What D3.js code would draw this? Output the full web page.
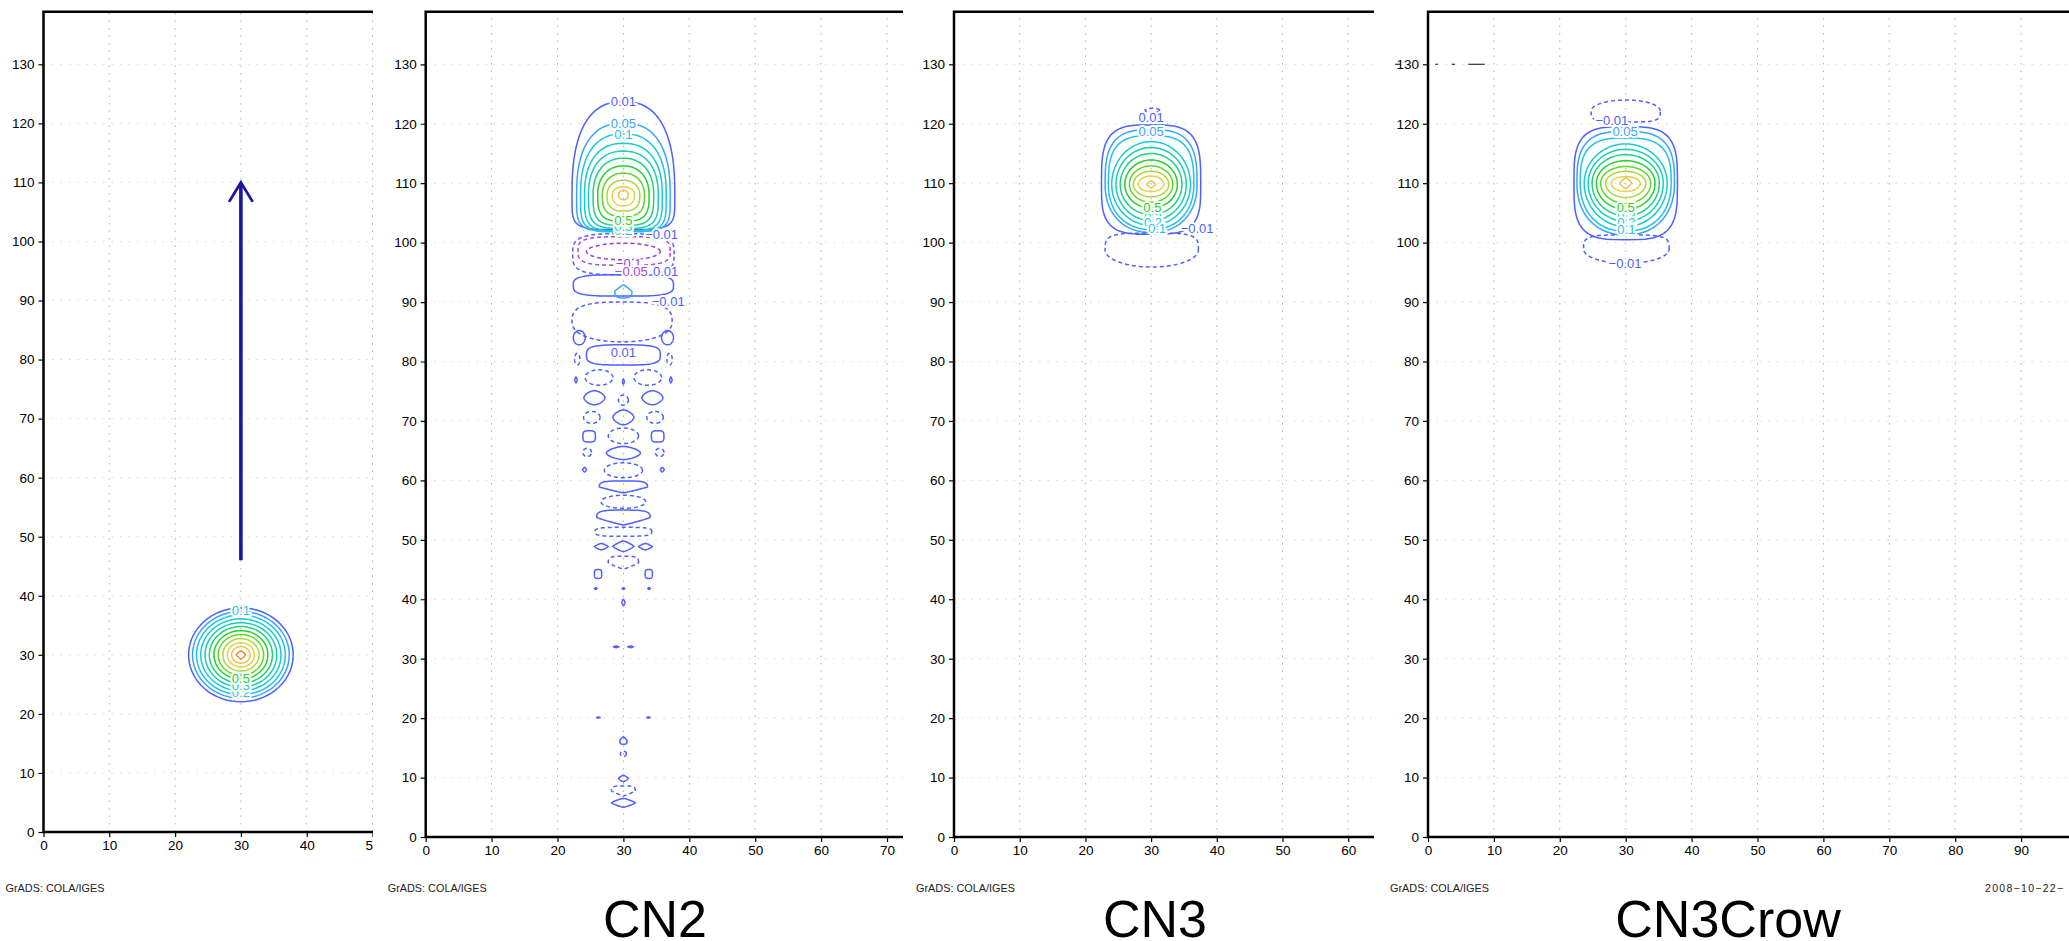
<!DOCTYPE html>
<html>
<head>
<meta charset="utf-8">
<script src="https://cdn.jsdelivr.net/npm/d3@7"></script>
<style>
    body { margin: 0; background: #fff; }
    .tick text { font-family: "Liberation Sans", Arial, sans-serif; font-size: 13.5px; fill: #000; }
    .tick line { stroke: #000; stroke-width: 1.2px; }
    .frame { stroke: #000; stroke-width: 2.5px; fill: none; }
    .vgrid { stroke: #b0b0b0; stroke-width: 1px; stroke-dasharray: 1.5 6; }
    .hgrid { stroke: #d4d4d4; stroke-width: 1px; stroke-dasharray: 1.5 7; }
    .contour { fill: none; stroke-width: 1.5px; }
    .neg { stroke-dasharray: 4 3; }
    .clabel { font-family: "Liberation Sans", Arial, sans-serif; font-size: 13px; text-anchor: middle;
              stroke: #fff; stroke-width: 4px; paint-order: stroke; }
    .stamp { font-family: "Liberation Sans", Arial, sans-serif; font-size: 10.5px; fill: #222; }
    .title { font-family: "Liberation Sans", Arial, sans-serif; font-size: 52px; fill: #000; text-anchor: middle; }
</style>
</head>
<body>
<script>
// ---- axis ticks (same for every panel)
const yTicks = [0, 10, 20, 30, 40, 50, 60, 70, 80, 90, 100, 110, 120, 130];
const xTicks = [0, 10, 20, 30, 40, 50, 60, 70, 80, 90];

// ---- contour levels and their colours
const levelList   = [-0.1, -0.05, -0.01, 0.01, 0.05, 0.1, 0.2, 0.3, 0.4, 0.5, 0.6, 0.7, 0.8, 0.9, 1.0];
const levelColors = ["#9d3ddd", "#b046de", "#4e60ff", "#4e60ff", "#3aa4ff", "#1fc3e3", "#19ccd0", "#18d0ae",
                     "#1fd184", "#24d22c", "#62d52d", "#a9d93c", "#e3d24a", "#e8c34c", "#ef8a3c"];

// ---- panel 1: initial blob + arrow
const p1Center = [30, 30];
const p1Levels = [0.01, 0.05, 0.1, 0.2, 0.3, 0.4, 0.5, 0.6, 0.7, 0.8, 0.9, 1.0];
const p1Radius = [7.95, 7.35, 6.75, 6.1, 5.45, 4.8, 4.1, 3.45, 2.75, 2.05, 1.4, 0.7];
const arrowFrom = [30, 46];
const arrowTo = [30, 110];
const p1LabelText  = ["0.1", "0.2", "0.3", "0.5"];
const p1LabelX     = [30, 30, 30, 30];
const p1LabelY     = [37.6, 23.6, 24.8, 26.1];
const p1LabelLevel = [0.1, 0.2, 0.3, 0.5];

// ---- CN2: main dome
const cn2Center = [30, 108];
const cn2Levels = [0.01, 0.05, 0.1, 0.2, 0.3, 0.4, 0.5, 0.6, 0.7, 0.8, 0.9];
const cn2HalfW  = [7.8, 7.1, 6.5, 5.9, 5.3, 4.6, 3.9, 3.2, 2.5, 1.7, 0.75];
const cn2Top    = [123.7, 120.1, 118.3, 116.7, 115.4, 114.2, 112.9, 111.7, 110.5, 109.4, 108.8];
const cn2Bottom = [102.2, 101.9, 101.8, 102.0, 102.4, 102.9, 103.6, 104.4, 105.3, 106.2, 107.2];
// CN2: bands just below the dome
const cn2BandLevel  = [-0.01, -0.05, -0.1, 0.01, 0.05, -0.01];
const cn2BandX      = [30, 30.1, 30, 30, 30, 29.8];
const cn2BandHalfW  = [7.7, 7.0, 5.6, 7.6, 1.3, 7.6];
const cn2BandTop    = [101.5, 101.0, 99.9, 94.6, 92.9, 90.0];
const cn2BandBottom = [94.6, 96.2, 97.1, 91.0, 90.7, 83.3];
const cn2BandShape  = ["box", "box", "ell", "box", "tri", "trap"];
// CN2: the trail of small cells
const cn2CellLevel = [0.01, 0.01, 0.01, -0.01, -0.01, -0.01, -0.01, 0.01, 0.01, 0.01, 0.01, 0.01, -0.01, -0.01, -0.01, 0.01,
                      0.01, 0.01, -0.01, -0.01, -0.01, 0.01, 0.01, 0.01, -0.01, 0.01, -0.01, 0.01, -0.01, 0.01, 0.01, 0.01,
                      -0.01, 0.01, 0.01, 0.01, 0.01, 0.01, 0.01, 0.01, 0.01, 0.01, 0.01, 0.01, -0.01, 0.01, -0.01, 0.01];
const cn2CellX = [23.3, 36.7, 30.0, 23.0, 37.0, 26.3, 33.7, 22.8, 37.2, 30.0, 25.6, 34.4, 30.0, 25.2, 34.8, 30.0,
                  24.8, 35.2, 30.0, 24.5, 35.5, 30.0, 24.1, 35.9, 30.0, 30.0, 30.0, 30.0, 30.0, 30.0, 26.65, 33.35,
                  30.0, 26.15, 33.85, 25.8, 30.0, 33.9, 30.0, 28.9, 31.1, 26.2, 33.8, 30.0, 30.0, 30.0, 30.0, 30.0];
const cn2CellY = [84.0, 84.0, 81.1, 80.4, 80.4, 77.3, 77.3, 76.9, 76.9, 76.6, 73.9, 73.9, 73.5, 70.6, 70.6, 70.6,
                  67.4, 67.4, 67.5, 64.7, 64.7, 64.6, 61.8, 61.8, 61.7, 58.9, 56.4, 53.75, 51.35, 48.9, 48.85, 48.85,
                  46.15, 44.25, 44.25, 41.8, 41.8, 41.8, 39.45, 32.0, 32.0, 20.1, 20.1, 16.25, 14.0, 9.85, 7.75, 5.75];
const cn2CellRx = [0.9, 0.9, 5.6, 0.4, 0.4, 2.1, 2.1, 0.2, 0.2, 0.15, 1.6, 1.6, 0.75, 1.25, 1.25, 1.6,
                   0.95, 0.95, 2.3, 0.65, 0.65, 2.6, 0.3, 0.3, 2.9, 3.65, 3.4, 4.05, 4.3, 1.6, 1.05, 1.05,
                   2.3, 0.55, 0.55, 0.2, 0.2, 0.2, 0.25, 0.4, 0.4, 0.25, 0.25, 0.55, 0.45, 0.75, 1.8, 1.8];
const cn2CellRy = [1.2, 1.2, 1.7, 1.0, 1.0, 1.3, 1.3, 0.5, 0.5, 0.45, 1.2, 1.2, 0.85, 1.0, 1.0, 1.25,
                   0.95, 0.95, 1.3, 0.7, 0.7, 1.1, 0.4, 0.4, 1.25, 1.0, 1.1, 1.25, 0.75, 0.9, 0.55, 0.55,
                   1.1, 0.75, 0.75, 0.15, 0.15, 0.15, 0.55, 0.15, 0.15, 0.1, 0.1, 0.65, 0.45, 0.55, 0.85, 0.75];
const cn2CellShape = ["ell", "ell", "box", "ell", "ell", "ell", "ell", "dia", "dia", "dia", "hex", "hex", "ell", "ell", "ell", "hex",
                      "box", "box", "ell", "ell", "ell", "hex", "dia", "dia", "ell", "vee", "ell", "vee", "box", "dia", "dia", "dia",
                      "vee", "box", "box", "dia", "dia", "dia", "dia", "dia", "dia", "dia", "dia", "tri", "ell", "dia", "vee", "dia"];
const cn2LabelText  = ["0.01", "0.05", "0.1", "0.2", "0.3", "0.5", "\u22120.01", "\u22120.1", "\u22120.05", "0.01", "\u22120.01", "0.01"];
const cn2LabelX     = [30, 30, 30, 30, 30, 30, 35.8, 30.8, 31.2, 36.4, 36.8, 30];
const cn2LabelY     = [123.7, 120.1, 118.3, 102.1, 102.8, 103.8, 101.4, 96.5, 95.1, 95.1, 90.2, 81.6];
const cn2LabelLevel = [0.01, 0.05, 0.1, 0.2, 0.3, 0.5, -0.01, -0.1, -0.05, 0.01, -0.01, 0.01];

// ---- CN3
const cn3Center = [30, 109.8];
const cn3Levels = [0.01, 0.05, 0.1, 0.2, 0.3, 0.4, 0.5, 0.6, 0.7, 0.8, 0.9];
const cn3HalfW  = [7.55, 7.0, 6.5, 6.0, 5.35, 4.7, 4.0, 3.3, 2.7, 1.95, 0.65];
const cn3Top    = [119.8, 119.0, 118.0, 117.0, 116.0, 115.0, 113.9, 112.9, 112.0, 111.2, 110.4];
const cn3Bottom = [101.4, 101.7, 102.2, 102.9, 103.7, 104.7, 105.8, 106.8, 107.7, 108.6, 109.2];
const cn3NegX      = [30.1, 30.2];
const cn3NegHalfW  = [7.1, 1.1];
const cn3NegTop    = [101.6, 122.6];
const cn3NegBottom = [95.9, 121.9];
const cn3LabelText  = ["0.01", "0.05", "0.3", "0.2", "0.5", "0.1", "\u22120.01"];
const cn3LabelX     = [30, 30, 30.3, 30.3, 30.2, 30.9, 37.0];
const cn3LabelY     = [121.0, 118.8, 104.3, 103.4, 105.9, 102.4, 102.4];
const cn3LabelLevel = [0.01, 0.05, 0.3, 0.2, 0.5, 0.1, -0.01];

// ---- CN3Crow
const crowCenter = [30, 110];
const crowLevels = [0.01, 0.05, 0.1, 0.2, 0.3, 0.4, 0.5, 0.6, 0.7, 0.8, 0.9];
const crowHalfW  = [7.85, 7.4, 6.9, 6.3, 5.7, 5.1, 4.45, 3.8, 3.05, 2.2, 0.9];
const crowTop    = [119.5, 118.7, 117.6, 116.6, 115.7, 114.8, 113.8, 112.8, 112.0, 111.1, 110.9];
const crowBottom = [100.5, 101.3, 101.9, 102.7, 103.6, 104.5, 105.6, 106.6, 107.6, 108.6, 109.1];
const crowNegX      = [30.0, 30.1];
const crowNegHalfW  = [5.25, 6.5];
const crowNegTop    = [124.0, 101.3];
const crowNegBottom = [120.3, 96.5];
const crowNegShape  = ["dome", "cup"];
const crowLabelText  = ["\u22120.01", "0.05", "0.3", "0.2", "0.5", "0.1", "\u22120.01"];
const crowLabelX     = [27.9, 29.9, 30.1, 30.1, 30.0, 30.1, 29.9];
const crowLabelY     = [120.6, 118.7, 104.5, 103.4, 105.9, 102.2, 96.5];
const crowLabelLevel = [-0.01, 0.05, 0.3, 0.2, 0.5, 0.1, -0.01];
// stray dark dashes along y = 130 in the last panel
const crowStrayFrom = [-5.0, 1.1, 3.6, 6.1];
const crowStrayTo   = [-4.2, 1.5, 4.1, 8.6];

// ---- text
const stampText = "GrADS:  COLA/IGES";
const dateText = "2008\u221210\u221222\u2212";
const titles = ["", "CN2", "CN3", "CN3Crow"];

// ---------------------------------------------------------------
const W = 2069, H = 941;
const TOP = 11.7, Y130 = 64.3, PX10 = 65.9;
const color = d3.scaleOrdinal().domain(levelList).range(levelColors);

const svg = d3.select("body").append("svg")
    .attr("width", W).attr("height", H)
    .style("display", "block");

const panels = [
    { left: 43.5, right: 373, zero: 832, px10: 65.8, titleX: 0 },
    { left: 425.7, right: 903, zero: 837, px10: PX10, titleX: 655 },
    { left: 954, right: 1374, zero: 837, px10: 65.7, titleX: 1155 },
    { left: 1428, right: 2069, zero: 837, px10: PX10, titleX: 1728 }
];

// superellipse exponents (top half, bottom half) for each shape name
const shapeExp = {
    ell: [2, 2], box: [3.5, 3.5], dia: [1.2, 1.2], hex: [1.6, 1.6], vee: [3.5, 1.1],
    tri: [1.1, 3], trap: [3, 2.2], dome: [2, 4], cup: [4, 2]
};

function blob(x, y, cx, halfW, top, bottom, cy, nT, nB) {
    const pts = [];
    const n = 72;
    for (let i = 0; i < n; i++) {
        const t = i / n * 2 * Math.PI;
        const c = Math.cos(t), s = Math.sin(t);
        const up = s >= 0;
        const e = up ? nT : nB;
        const dx = Math.sign(c) * Math.pow(Math.abs(c), 2 / e) * halfW;
        const dy = Math.sign(s) * Math.pow(Math.abs(s), 2 / e) * (up ? top - cy : cy - bottom);
        pts.push([x(cx + dx), y(cy + dy)]);
    }
    return d3.line().curve(d3.curveLinearClosed)(pts);
}

function drawContour(g, x, y, level, cx, halfW, top, bottom, cy, shape) {
    const e = shapeExp[shape];
    g.append("path")
        .attr("class", "contour" + (level < 0 ? " neg" : ""))
        .attr("stroke", color(level))
        .attr("d", blob(x, y, cx, halfW, top, bottom, cy, e[0], e[1]));
}

function drawLabels(g, x, y, text, lx, ly, lev) {
    text.forEach(function (t, i) {
        g.append("text")
            .attr("class", "clabel")
            .attr("x", x(lx[i]))
            .attr("y", y(ly[i]))
            .attr("dy", "0.36em")
            .attr("fill", color(lev[i]))
            .text(t);
    });
}

const scales = panels.map(function (p, k) {
    const xMax = (p.right - p.left) / p.px10 * 10;
    const x = d3.scaleLinear().domain([0, xMax]).range([p.left, p.right]);
    const y = d3.scaleLinear().domain([0, 130]).range([p.zero, Y130]);

    svg.append("clipPath").attr("id", "clip" + k)
        .append("rect").attr("x", p.left - 60).attr("y", 0)
        .attr("width", p.right - p.left + 60).attr("height", H);

    const g = svg.append("g").attr("clip-path", "url(#clip" + k + ")");
    const xT = xTicks.filter(function (t) { return x(t) <= p.right + 1; });

    // grid
    g.selectAll(".vgrid").data(xT.slice(1)).enter().append("line")
        .attr("class", "vgrid")
        .attr("x1", function (d) { return x(d); }).attr("x2", function (d) { return x(d); })
        .attr("y1", p.zero).attr("y2", TOP);
    g.selectAll(".hgrid").data(yTicks.slice(1)).enter().append("line")
        .attr("class", "hgrid")
        .attr("x1", p.left).attr("x2", p.right)
        .attr("y1", function (d) { return y(d); }).attr("y2", function (d) { return y(d); });

    // axes
    const ax = g.append("g")
        .attr("transform", "translate(0," + p.zero + ")")
        .call(d3.axisBottom(x).tickValues(xT).tickSize(5).tickSizeOuter(0).tickPadding(3));
    const ay = g.append("g")
        .attr("transform", "translate(" + p.left + ",0)")
        .call(d3.axisLeft(y).tickValues(yTicks).tickSize(5).tickSizeOuter(0).tickPadding(4));
    ax.select(".domain").remove();
    ay.select(".domain").remove();
    ax.attr("font-family", null).attr("font-size", null);
    ay.attr("font-family", null).attr("font-size", null);

    g.append("path").attr("class", "frame")
        .attr("d", "M" + p.right + "," + TOP + "H" + p.left + "V" + p.zero + "H" + p.right);

    // GrADS stamp
    svg.append("text").attr("class", "stamp")
        .attr("x", p.left - 38).attr("y", 892)
        .attr("textLength", 99).attr("lengthAdjust", "spacingAndGlyphs")
        .text(stampText);

    if (titles[k]) {
        svg.append("text").attr("class", "title")
            .attr("x", p.titleX).attr("y", 937)
            .text(titles[k]);
    }
    return { x: x, y: y, g: g };
});

// ---- panel 1
(function () {
    const s = scales[0];
    p1Levels.forEach(function (lev, i) {
        drawContour(s.g, s.x, s.y, lev, p1Center[0], p1Radius[i],
            p1Center[1] + p1Radius[i], p1Center[1] - p1Radius[i], p1Center[1], i === 11 ? "dia" : "ell");
    });
    drawLabels(s.g, s.x, s.y, p1LabelText, p1LabelX, p1LabelY, p1LabelLevel);

    const ac = "#1717a3";
    s.g.append("line")
        .attr("x1", s.x(arrowFrom[0])).attr("y1", s.y(arrowFrom[1]))
        .attr("x2", s.x(arrowTo[0])).attr("y2", s.y(arrowTo[1]) + 1)
        .attr("stroke", ac).attr("stroke-width", 3.6);
    s.g.append("path")
        .attr("d", d3.line()([
            [s.x(arrowTo[0] - 1.8), s.y(arrowTo[1] - 3.3)],
            [s.x(arrowTo[0]), s.y(arrowTo[1])],
            [s.x(arrowTo[0] + 1.8), s.y(arrowTo[1] - 3.3)]
        ]))
        .attr("fill", "none").attr("stroke", ac).attr("stroke-width", 2.8);
})();

// ---- CN2
(function () {
    const s = scales[1];
    cn2Levels.forEach(function (lev, i) {
        const nT = 2.5 - 0.05 * i, nB = 5 - 0.3 * i;
        s.g.append("path")
            .attr("class", "contour")
            .attr("stroke", color(lev))
            .attr("d", blob(s.x, s.y, cn2Center[0], cn2HalfW[i], cn2Top[i], cn2Bottom[i], cn2Center[1], nT, nB));
    });
    cn2BandLevel.forEach(function (lev, i) {
        const cy = (cn2BandTop[i] + cn2BandBottom[i]) / 2;
        drawContour(s.g, s.x, s.y, lev, cn2BandX[i], cn2BandHalfW[i], cn2BandTop[i], cn2BandBottom[i], cy, cn2BandShape[i]);
    });
    cn2CellLevel.forEach(function (lev, i) {
        drawContour(s.g, s.x, s.y, lev, cn2CellX[i], cn2CellRx[i],
            cn2CellY[i] + cn2CellRy[i], cn2CellY[i] - cn2CellRy[i], cn2CellY[i], cn2CellShape[i]);
    });
    drawLabels(s.g, s.x, s.y, cn2LabelText, cn2LabelX, cn2LabelY, cn2LabelLevel);
})();

// ---- CN3
(function () {
    const s = scales[2];
    cn3Levels.forEach(function (lev, i) {
        drawContour(s.g, s.x, s.y, lev, cn3Center[0], cn3HalfW[i], cn3Top[i], cn3Bottom[i], cn3Center[1],
            i === 0 ? "box" : (i < 3 ? "trap" : (i === 10 ? "dia" : "ell")));
    });
    cn3NegX.forEach(function (cx, i) {
        const cy = (cn3NegTop[i] + cn3NegBottom[i]) / 2;
        drawContour(s.g, s.x, s.y, -0.01, cx, cn3NegHalfW[i], cn3NegTop[i], cn3NegBottom[i], cy, i === 0 ? "cup" : "ell");
    });
    drawLabels(s.g, s.x, s.y, cn3LabelText, cn3LabelX, cn3LabelY, cn3LabelLevel);
})();

// ---- CN3Crow
(function () {
    const s = scales[3];
    crowLevels.forEach(function (lev, i) {
        drawContour(s.g, s.x, s.y, lev, crowCenter[0], crowHalfW[i], crowTop[i], crowBottom[i], crowCenter[1],
            i === 0 ? "box" : (i < 3 ? "trap" : (i === 10 ? "dia" : "ell")));
    });
    crowNegX.forEach(function (cx, i) {
        const cy = (crowNegTop[i] + crowNegBottom[i]) / 2;
        drawContour(s.g, s.x, s.y, -0.01, cx, crowNegHalfW[i], crowNegTop[i], crowNegBottom[i], cy, crowNegShape[i]);
    });
    drawLabels(s.g, s.x, s.y, crowLabelText, crowLabelX, crowLabelY, crowLabelLevel);

    crowStrayFrom.forEach(function (a, i) {
        svg.append("line")
            .attr("x1", s.x(a)).attr("x2", s.x(crowStrayTo[i]))
            .attr("y1", s.y(130)).attr("y2", s.y(130))
            .attr("stroke", "#333").attr("stroke-width", 1.2);
    });

    svg.append("text").attr("class", "stamp")
        .attr("x", 1985).attr("y", 892)
        .attr("letter-spacing", "1.3px")
        .text(dateText);
})();
</script>
</body>
</html>
